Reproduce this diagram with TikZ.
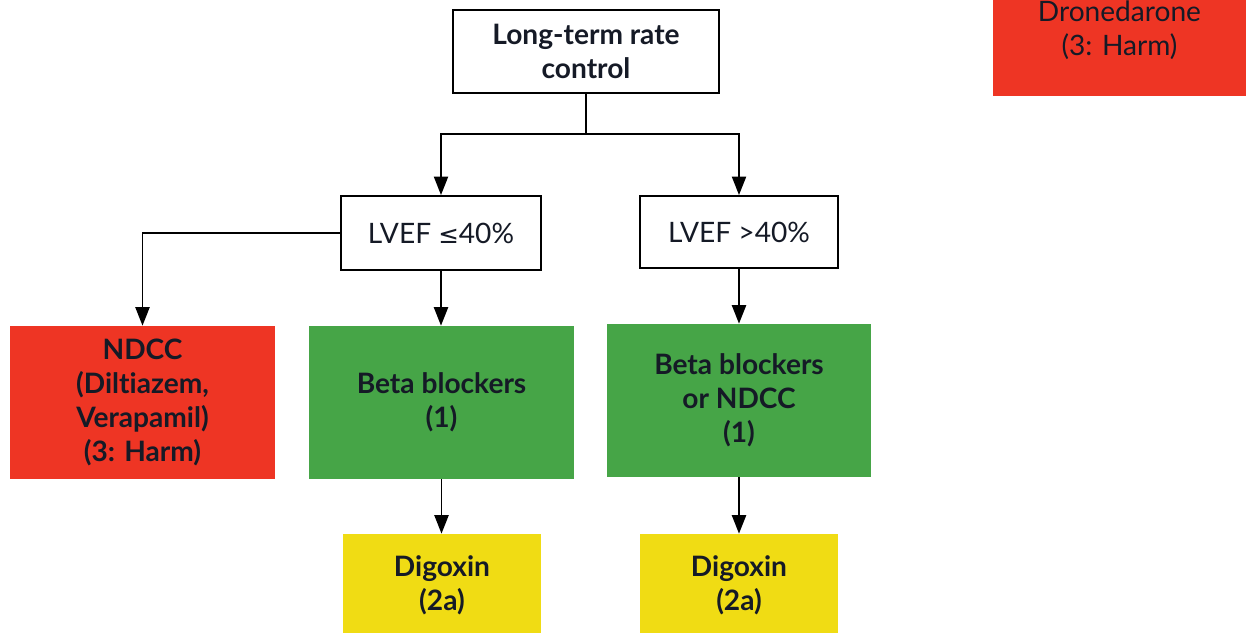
\documentclass[tikz,border=0pt]{standalone}
\usepackage{fontspec}
\setmainfont[Ligatures=NoCommon]{Lato}
\newfontfamily\symfont{DejaVu Sans}
\usetikzlibrary{positioning}
\usetikzlibrary{arrows.meta}
\definecolor{harmred}{HTML}{EE3524}
\definecolor{recgreen}{HTML}{46A547}
\definecolor{digyellow}{HTML}{F0DC14}
\definecolor{inkdark}{HTML}{151A26}
\tikzset{mybox/.style={draw=black, line width=1.1pt, fill=white, align=center, text=inkdark, font=\fontsize{16}{19.5}\selectfont, inner sep=0pt}}
\tikzset{myboxRed/.style={fill=harmred, align=center, text=inkdark, font=\fontsize{16}{19.5}\selectfont\bfseries, inner sep=0pt}}
\tikzset{myboxGreen/.style={fill=recgreen, align=center, text=inkdark, font=\fontsize{16}{19.5}\selectfont\bfseries, inner sep=0pt}}
\tikzset{myboxYellow/.style={fill=digyellow, align=center, text=inkdark, font=\fontsize{16}{19.5}\selectfont\bfseries, inner sep=0pt}}
\tikzset{myarrow/.style={line width=1.1pt, -{Triangle[length=10.5pt, width=8pt]}}}
\begin{document}
\begin{tikzpicture}[x=0.02cm, y=-0.02cm]

\useasboundingbox (0,0) rectangle (1250,632);
\clip (0,0) rectangle (1250,632);

\node[mybox, font=\fontsize{16}{19.5}\selectfont\bfseries, minimum width=5.32cm, minimum height=1.66cm] (ltrc) at (586, 51.5) {Long-term rate\\control};

\node[myboxRed, font=\fontsize{16}{19.5}\selectfont, minimum width=5.06cm, minimum height=2.64cm] (drone) at (1119.5, 30) {Dronedarone\\(3: Harm)};

\node[mybox, minimum width=4cm, minimum height=1.48cm] (lvefA) at (441, 233) {LVEF {\symfont\fontsize{14}{16}\selectfont ≤}40\%};
\node[mybox, minimum width=3.96cm, minimum height=1.44cm] (lvefB) at (739, 232) {LVEF >40\%};

\node[myboxRed, minimum width=5.3cm, minimum height=3.06cm] (ndcc) at (142.5, 402.5) {NDCC\\(Diltiazem,\\Verapamil)\\(3: Harm)};
\node[myboxGreen, minimum width=5.3cm, minimum height=3.06cm] (betaA) at (441.5, 402.5) {Beta blockers\\(1)};
\node[myboxGreen, minimum width=5.28cm, minimum height=3.06cm] (betaB) at (739, 400.5) {Beta blockers\\or NDCC\\(1)};

\node[myboxYellow, minimum width=3.96cm, minimum height=2.04cm] (digA) at (442, 585) {Digoxin\\(2a)};
\node[myboxYellow, minimum width=3.96cm, minimum height=2.04cm] (digB) at (739, 585) {Digoxin\\(2a)};

\coordinate (split) at (586, 134);

\draw[line width=1.1pt] (ltrc.south) -- (split);
\draw[myarrow] (split) -| (lvefA.north);
\draw[myarrow] (split) -| (lvefB.north);
\draw[myarrow] (lvefA.west) -| (ndcc.north);
\draw[myarrow] (lvefA.south) -- (lvefA.south |- betaA.north);
\draw[myarrow] (lvefB.south) -- (betaB.north);
\draw[myarrow] (betaA.south) -- (betaA.south |- digA.north);
\draw[myarrow] (betaB.south) -- (digB.north);

\end{tikzpicture}
\end{document}
